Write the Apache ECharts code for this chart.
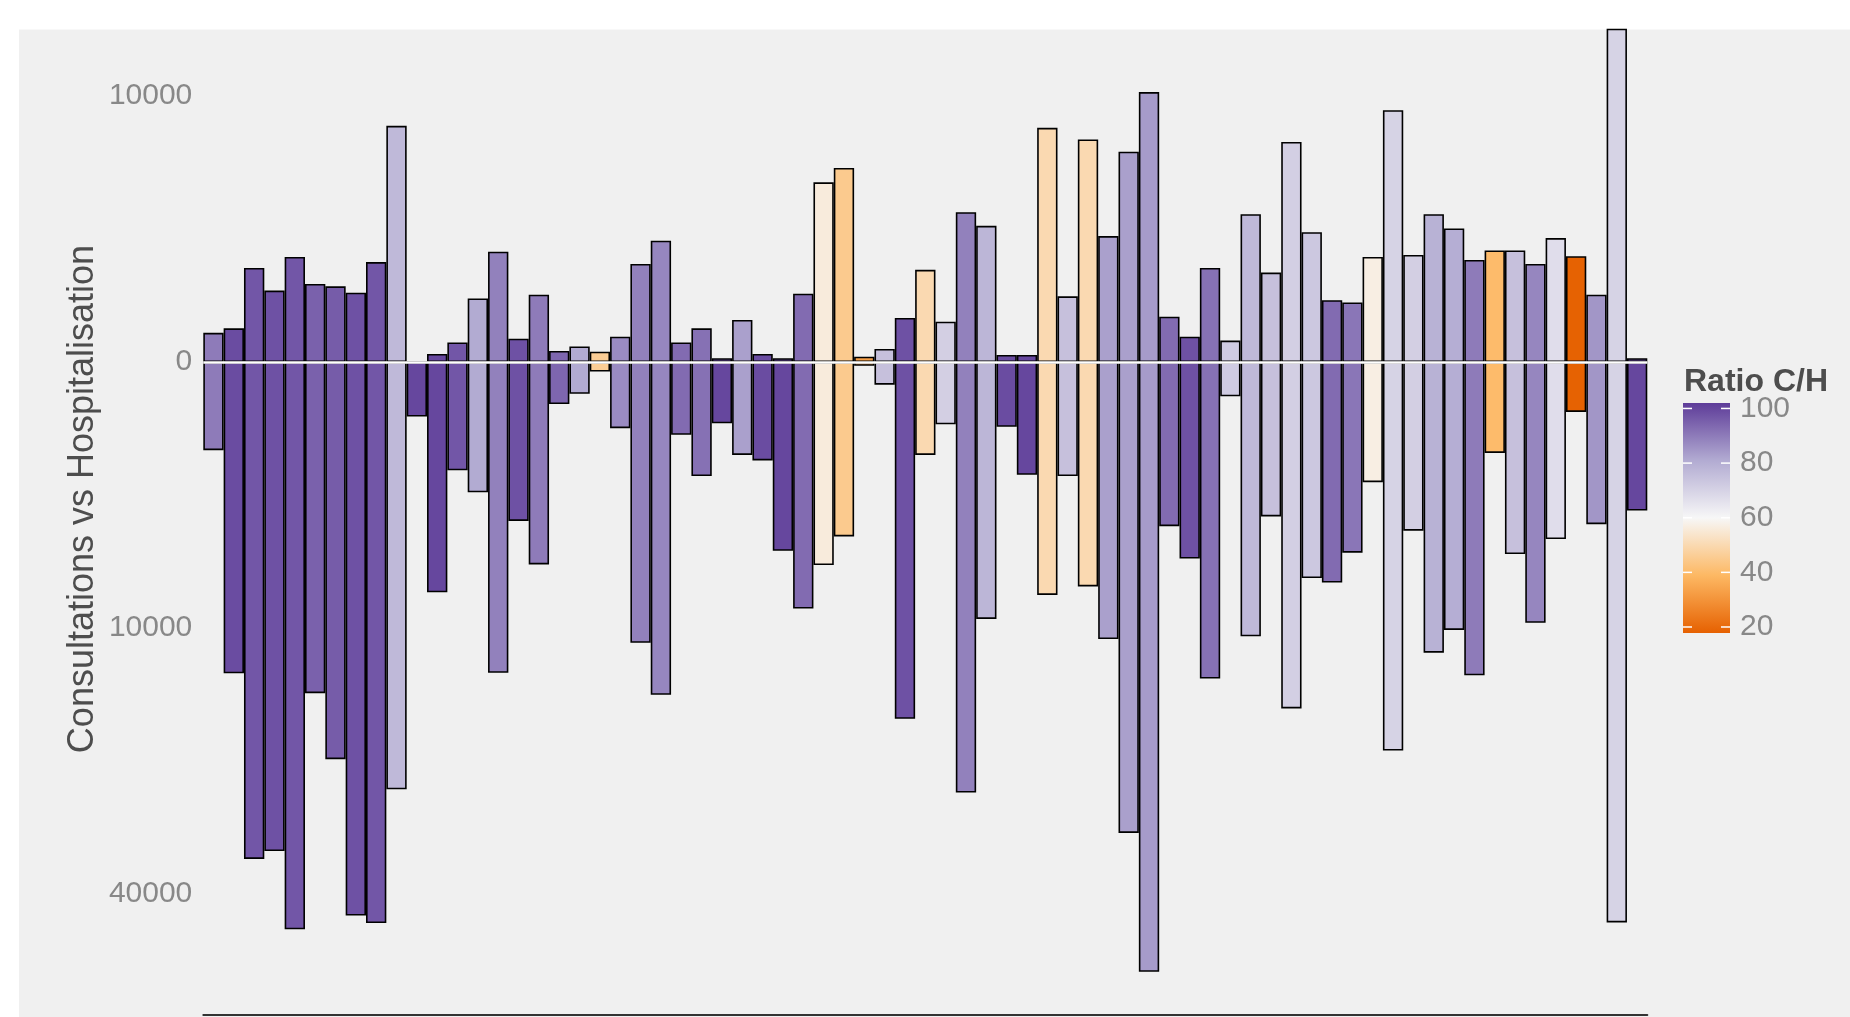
<!DOCTYPE html>
<html>
<head>
<meta charset="utf-8">
<title>Consultations vs Hospitalisation</title>
<script src="https://cdn.jsdelivr.net/npm/echarts@6/dist/echarts.min.js"></script>
<style>
html, body { margin: 0; padding: 0; background: #fff; }
#chart { width: 1850px; height: 1017px; }
</style>
</head>
<body>
<div id="chart"></div>
<script>
// valeurs (barres vers le haut / vers le bas)
var hospitalisations = [120, 160, 1250, 720, 1560, 860, 810, 680, 1410, 7880,
	0, 9, 54, 570, 1720, 77, 640, 17, 34, 15,
	90, 1360, 2080, 54, 160, 2, 250, 9, 2, 660,
	4560, 5320, 4, 24, 275, 1200, 230, 3170, 2620, 7,
	7, 7750, 610, 7000, 2240, 6250, 10300, 290, 90, 1250,
	65, 3090, 1130, 6840, 2380, 540, 500, 1560, 8960, 1620,
	3090, 2520, 1470, 1760, 1760, 1360, 2170, 1580, 640, 19000, 2];
var consultations = [1100, 13700, 34900, 33800, 45500, 15500, 22300, 43300, 44500, 25800,
	420, 7500, 1660, 2400, 13650, 3570, 5790, 250, 143, 13,
	620, 11150, 15650, 750, 1840, 530, 1220, 1370, 5040, 8590,
	5830, 4300, 2, 73, 18000, 1220, 550, 26200, 9330, 595,
	1800, 7670, 1840, 7120, 10850, 31350, 52560, 3810, 5460, 14170,
	167, 10640, 3370, 16960, 6600, 6880, 5140, 2040, 21340, 4020,
	11940, 10150, 13880, 1170, 5210, 9610, 4430, 353, 3720, 44400, 3120];
var ratioCH = [90, 99, 97, 98, 97, 95, 96, 98, 97, 77,
	100, 100, 97, 81, 89, 98, 90, 94, 81, 46,
	87, 89, 88, 93, 92, 100, 83, 99, 100, 93,
	56, 45, 33, 75, 98, 50, 71, 89, 78, 99,
	100, 50, 75, 50, 83, 83, 84, 93, 98, 92,
	72, 77, 75, 71, 73, 93, 91, 57, 70, 71,
	79, 80, 90, 40, 75, 88, 67, 18, 85, 70, 100];
var categories = hospitalisations.map(function (v, i) { return 'S' + (i + 1); });

var yTickValues = [10000, 0, -10000, -40000];
var colorTicks = [20, 40, 60, 80, 100];
var colorRange = [17.8, 102];
var paletteColors = ['#E66101', '#FDB863', '#F7F7F7', '#B2ABD2', '#5E3C99'];

var FONT = '"Liberation Sans", Arial, sans-serif';

// echelle racine carree signee
function signedSqrt(v) {
	return v < 0 ? -Math.sqrt(-v) : Math.sqrt(v);
}

function barData(values, sign) {
	return values.map(function (v, i) {
		return [i, sign * Math.sqrt(v), ratioCH[i]];
	});
}

// legende type colorbar ggplot
function colorbarGraphic() {
	var bx = 1683, by = 403, bw = 47, bh = 230;
	var els = [];
	els.push({
		type: 'text', left: 1684, top: 366,
		style: { text: 'Ratio C/H', font: 'bold 32px ' + FONT, fill: '#4D4D4D' }
	});
	var stops = paletteColors.slice().reverse().map(function (c, i) {
		return { offset: i / (paletteColors.length - 1), color: c };
	});
	els.push({
		type: 'rect',
		shape: { x: bx, y: by, width: bw, height: bh },
		style: { fill: new echarts.graphic.LinearGradient(0, 0, 0, 1, stops) }
	});
	colorTicks.forEach(function (v) {
		var ty = by + (colorRange[1] - v) / (colorRange[1] - colorRange[0]) * bh;
		els.push({
			type: 'line',
			shape: { x1: bx, y1: ty, x2: bx + 9, y2: ty },
			style: { stroke: '#fff', lineWidth: 1.5 }
		});
		els.push({
			type: 'line',
			shape: { x1: bx + bw - 9, y1: ty, x2: bx + bw, y2: ty },
			style: { stroke: '#fff', lineWidth: 1.5 }
		});
		els.push({
			type: 'text', x: 1740, y: ty,
			style: { text: String(v), font: '30px ' + FONT, fill: '#888888', verticalAlign: 'middle' }
		});
	});
	return els;
}

var myChart = echarts.init(document.getElementById('chart'));

var option = {
	animation: false,
	backgroundColor: '#F0F0F0',
	grid: { left: 203.3, right: 202.7, top: 29.5, bottom: 2, containLabel: false },
	xAxis: {
		type: 'category',
		data: categories,
		axisLine: { show: true, onZero: false, lineStyle: { color: '#333333', width: 2 } },
		axisTick: { show: false },
		axisLabel: { show: false },
		splitLine: { show: false }
	},
	yAxis: {
		type: 'value',
		min: -245.5,
		max: 125,
		axisLine: { show: false },
		axisTick: { show: false },
		splitLine: { show: false },
		axisLabel: {
			customValues: yTickValues.map(signedSqrt),
			formatter: function (v) { return String(Math.round(v * v)); },
			fontFamily: FONT,
			fontSize: 30,
			color: '#888888',
			margin: 11
		}
	},
	visualMap: {
		type: 'continuous',
		show: false,
		min: colorRange[0],
		max: colorRange[1],
		dimension: 2,
		seriesIndex: [0, 1],
		inRange: { color: paletteColors }
	},
	series: [
		{
			name: 'Hospitalisation',
			type: 'bar',
			stack: 'total',
			barCategoryGap: '0%',
			encode: { x: 0, y: 1 },
			data: barData(hospitalisations, 1),
			itemStyle: { borderColor: '#000', borderWidth: 1.6 },
			clip: true
		},
		{
			name: 'Consultations',
			type: 'bar',
			stack: 'total',
			barCategoryGap: '0%',
			encode: { x: 0, y: 1 },
			data: barData(consultations, -1),
			itemStyle: { borderColor: '#000', borderWidth: 1.6 },
			clip: true,
			markLine: {
				silent: true,
				z: 10,
				symbol: ['none', 'none'],
				label: { show: false },
				lineStyle: { color: '#ffffff', width: 2.6, type: 'solid', opacity: 1 },
				emphasis: { disabled: true },
				data: [{ yAxis: 0 }]
			}
		}
	],
	graphic: [
		{ type: 'rect', shape: { x: 0, y: 0, width: 1850, height: 29.5 }, style: { fill: '#fff' } },
		{ type: 'rect', shape: { x: 0, y: 0, width: 19, height: 1017 }, style: { fill: '#fff' } },
		{
			type: 'text', x: 83, y: 499, rotation: Math.PI / 2,
			style: {
				text: 'Consultations vs Hospitalisation',
				font: '36px ' + FONT, fill: '#4D4D4D',
				align: 'center', verticalAlign: 'middle'
			}
		}
	].concat(colorbarGraphic())
};

myChart.setOption(option);
</script>
</body>
</html>
